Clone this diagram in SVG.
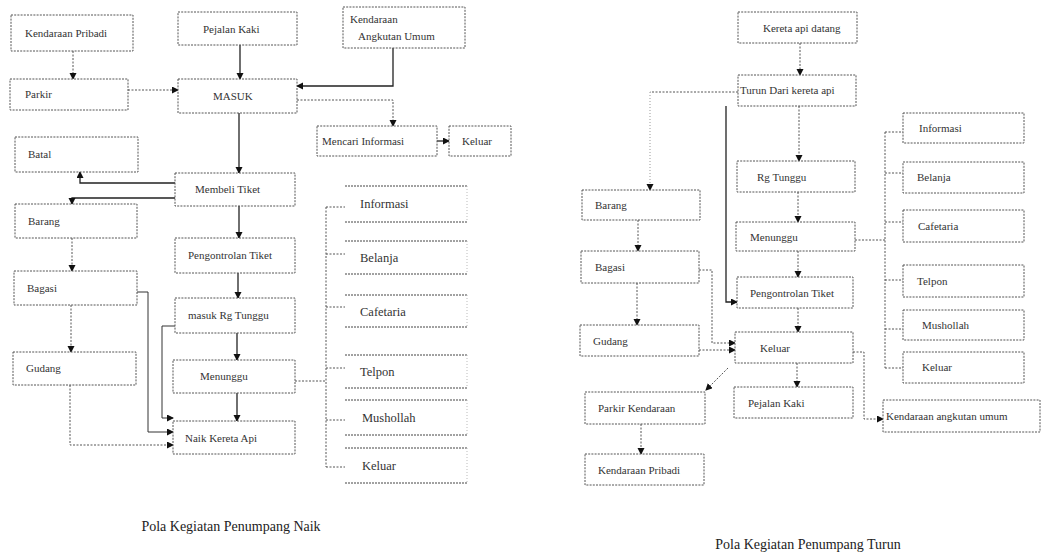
<svg xmlns="http://www.w3.org/2000/svg" width="1042" height="557" viewBox="0 0 1042 557">
<style>
.b{fill:#fff;stroke:#555;stroke-width:1;stroke-dasharray:2 1.2}
.t{font-family:"Liberation Serif",serif;font-size:11px;fill:#333}
.tl{font-family:"Liberation Serif",serif;font-size:12.5px;fill:#333}
.cap{font-family:"Liberation Serif",serif;font-size:14px;fill:#222;text-anchor:middle}
.s{fill:none;stroke:#222;stroke-width:1.3}
.s2{fill:none;stroke:#333;stroke-width:1}
.d{fill:none;stroke:#555;stroke-width:1;stroke-dasharray:2 1.5}
.f{fill:none;stroke:#999;stroke-width:1;stroke-dasharray:1 2}
.arr{marker-end:url(#ah)}
.hl{stroke:#444;stroke-width:1;stroke-dasharray:2 1}
.sl{stroke:#bbb;stroke-width:1;stroke-dasharray:1 2}
</style>
<defs>
<marker id="ah" markerUnits="userSpaceOnUse" markerWidth="8" markerHeight="8" refX="6" refY="3.5" orient="auto">
<path d="M0,0 L7,3.5 L0,7 z" fill="#111"/>
</marker>
</defs>
<rect width="1042" height="557" fill="#fff"/>

<g id="connectors">
<!-- left diagram -->
<path class="d arr" d="M73,51 V79"/>
<path class="s arr" d="M240,45 V79"/>
<path class="s arr" d="M393,48 V86 H297"/>
<path class="d arr" d="M128,90 H178"/>
<path class="d arr" d="M297,100 H393 V126"/>
<path class="s arr" d="M437,141 H449"/>
<path class="s arr" d="M239,113 V173"/>
<path class="s arr" d="M175,183 H80 V172"/>
<path class="s arr" d="M175,198 H72 V204"/>
<path class="s arr" d="M239,206 V238"/>
<path class="s arr" d="M238,273 V298"/>
<path class="s arr" d="M237,333 V360"/>
<path class="s arr" d="M237,393 V421"/>
<path class="d arr" d="M72,238 V271"/>
<path class="d arr" d="M71,305 V352"/>
<path class="s2 arr" d="M137,292 H148 V432 H173"/>
<path class="s2 arr" d="M175,326 H162 V418 H173"/>
<path class="d arr" d="M70,385 V445 H173"/>
<path class="d" d="M295,381 H326"/>
<path class="d" d="M326,207 V467 M326,207 H345 M326,254 H345 M326,307 H345 M326,368 H345 M326,420 H345 M326,467 H345"/>
<!-- right diagram -->
<path class="d arr" d="M800,43 V75"/>
<path class="d" d="M738,92 H650"/>
<path class="f arr" d="M650,92 V190"/>
<path class="s arr" d="M726,106 V302 H737"/>
<path class="d arr" d="M799,106 V161"/>
<path class="d arr" d="M798,192 V222"/>
<path class="d arr" d="M798,251 V277"/>
<path class="d arr" d="M798,308 V332"/>
<path class="d arr" d="M797,363 V387"/>
<path class="d" d="M855,240 H885"/>
<path class="d" d="M885,132 V368 M885,132 H903 M885,173 H903 M885,222 H903 M885,280 H903 M885,329 H903 M885,368 H903"/>
<path class="d arr" d="M638,220 V251"/>
<path class="d arr" d="M637,283 V325"/>
<path class="d arr" d="M699,270 H712 V343 H735"/>
<path class="d arr" d="M699,350 H735"/>
<path class="d arr" d="M728,368 L706,390"/>
<path class="d arr" d="M641,424 V454"/>
<path class="d arr" d="M853,352 H864 V419 H883"/>
</g>

<!-- left diagram nodes -->
<g id="l-kendaraan-pribadi"><rect class="b" x="11" y="15" width="122" height="36"/><text class="t" x="25" y="37">Kendaraan Pribadi</text></g>
<g id="l-pejalan-kaki"><rect class="b" x="178" y="12" width="119" height="33"/><text class="t" x="203" y="33">Pejalan Kaki</text></g>
<g id="l-kendaraan-umum"><rect class="b" x="343" y="7" width="122" height="41"/><text class="t" x="350" y="23">Kendaraan</text><text class="t" x="358" y="40">Angkutan Umum</text></g>
<g id="l-parkir"><rect class="b" x="10" y="79" width="118" height="31"/><text class="t" x="25" y="98">Parkir</text></g>
<g id="l-masuk"><rect class="b" x="178" y="79" width="119" height="34"/><text class="t" x="213" y="100">MASUK</text></g>
<g id="l-mencari"><rect class="b" x="317" y="126" width="120" height="30"/><text class="t" x="322" y="145">Mencari Informasi</text></g>
<g id="l-keluar-a"><rect class="b" x="449" y="126" width="62" height="30"/><text class="t" x="462" y="145">Keluar</text></g>
<g id="l-batal"><rect class="b" x="15" y="137" width="123" height="35"/><text class="t" x="28" y="158">Batal</text></g>
<g id="l-membeli"><rect class="b" x="175" y="173" width="120" height="33"/><text class="t" x="195" y="193">Membeli Tiket</text></g>
<g id="l-barang"><rect class="b" x="15" y="204" width="122" height="34"/><text class="t" x="28" y="225">Barang</text></g>
<g id="l-pengontrolan"><rect class="b" x="175" y="238" width="120" height="35"/><text class="t" x="188" y="259">Pengontrolan Tiket</text></g>
<g id="l-bagasi"><rect class="b" x="14" y="271" width="123" height="34"/><text class="t" x="27" y="292">Bagasi</text></g>
<g id="l-masuk-rg"><rect class="b" x="175" y="298" width="120" height="35"/><text class="t" x="188" y="319">masuk Rg Tunggu</text></g>
<g id="l-gudang"><rect class="b" x="13" y="352" width="123" height="33"/><text class="t" x="26" y="372">Gudang</text></g>
<g id="l-menunggu"><rect class="b" x="173" y="360" width="122" height="33"/><text class="t" x="200" y="380">Menunggu</text></g>
<g id="l-naik"><rect class="b" x="173" y="421" width="122" height="33"/><text class="t" x="185" y="442">Naik Kereta Api</text></g>

<!-- left list -->
<g id="l-informasi"><path class="hl" d="M345,186 H467 M345,222 H467"/><path class="sl" d="M467,186 V222"/><text class="tl" x="360" y="208">Informasi</text></g>
<g id="l-belanja"><path class="hl" d="M345,241 H467 M345,274 H467"/><path class="sl" d="M467,241 V274"/><text class="tl" x="360" y="262">Belanja</text></g>
<g id="l-cafetaria"><path class="hl" d="M345,295 H467 M345,327 H467"/><path class="sl" d="M467,295 V327"/><text class="tl" x="360" y="316">Cafetaria</text></g>
<g id="l-telpon"><path class="hl" d="M345,355 H467 M345,388 H467"/><path class="sl" d="M467,355 V388"/><text class="tl" x="360" y="376">Telpon</text></g>
<g id="l-mushollah"><path class="hl" d="M345,400 H467 M345,435 H467"/><path class="sl" d="M467,400 V435"/><text class="tl" x="362" y="422">Mushollah</text></g>
<g id="l-keluar-b"><path class="hl" d="M345,448 H467 M345,483 H467"/><path class="sl" d="M467,448 V483"/><text class="tl" x="362" y="470">Keluar</text></g>

<!-- right diagram nodes -->
<g id="r-kereta-datang"><rect class="b" x="738" y="12" width="119" height="31"/><text class="t" x="763" y="32">Kereta api datang</text></g>
<g id="r-turun"><rect class="b" x="738" y="75" width="118" height="31"/><text class="t" x="740" y="94">Turun Dari kereta api</text></g>
<g id="r-rg-tunggu"><rect class="b" x="737" y="161" width="118" height="31"/><text class="t" x="757" y="181">Rg Tunggu</text></g>
<g id="r-menunggu"><rect class="b" x="736" y="222" width="119" height="29"/><text class="t" x="750" y="241">Menunggu</text></g>
<g id="r-pengontrolan"><rect class="b" x="737" y="277" width="116" height="31"/><text class="t" x="750" y="297">Pengontrolan Tiket</text></g>
<g id="r-keluar"><rect class="b" x="735" y="332" width="118" height="31"/><text class="t" x="760" y="352">Keluar</text></g>
<g id="r-pejalan"><rect class="b" x="734" y="387" width="119" height="31"/><text class="t" x="748" y="407">Pejalan Kaki</text></g>
<g id="r-barang"><rect class="b" x="582" y="190" width="118" height="30"/><text class="t" x="595" y="209">Barang</text></g>
<g id="r-bagasi"><rect class="b" x="581" y="251" width="118" height="32"/><text class="t" x="595" y="271">Bagasi</text></g>
<g id="r-gudang"><rect class="b" x="580" y="325" width="119" height="31"/><text class="t" x="593" y="345">Gudang</text></g>
<g id="r-parkir"><rect class="b" x="585" y="392" width="120" height="32"/><text class="t" x="598" y="412">Parkir Kendaraan</text></g>
<g id="r-kendaraan-pribadi"><rect class="b" x="585" y="454" width="119" height="31"/><text class="t" x="598" y="474">Kendaraan Pribadi</text></g>
<g id="r-kendaraan-umum"><rect class="b" x="883" y="400" width="157" height="32"/><text class="t" x="886" y="420">Kendaraan angkutan umum</text></g>

<!-- right list -->
<g id="r-informasi"><rect class="b" x="903" y="113" width="121" height="30"/><text class="t" x="919" y="132">Informasi</text></g>
<g id="r-belanja"><rect class="b" x="903" y="162" width="121" height="31"/><text class="t" x="917" y="181">Belanja</text></g>
<g id="r-cafetaria"><rect class="b" x="903" y="210" width="121" height="32"/><text class="t" x="918" y="230">Cafetaria</text></g>
<g id="r-telpon"><rect class="b" x="903" y="265" width="121" height="32"/><text class="t" x="917" y="285">Telpon</text></g>
<g id="r-mushollah"><rect class="b" x="903" y="310" width="121" height="30"/><text class="t" x="922" y="329">Mushollah</text></g>
<g id="r-keluar-b"><rect class="b" x="903" y="352" width="121" height="31"/><text class="t" x="922" y="371">Keluar</text></g>

<text class="cap" x="231" y="531">Pola Kegiatan Penumpang Naik</text>
<text class="cap" x="808" y="549">Pola Kegiatan Penumpang Turun</text>
</svg>
